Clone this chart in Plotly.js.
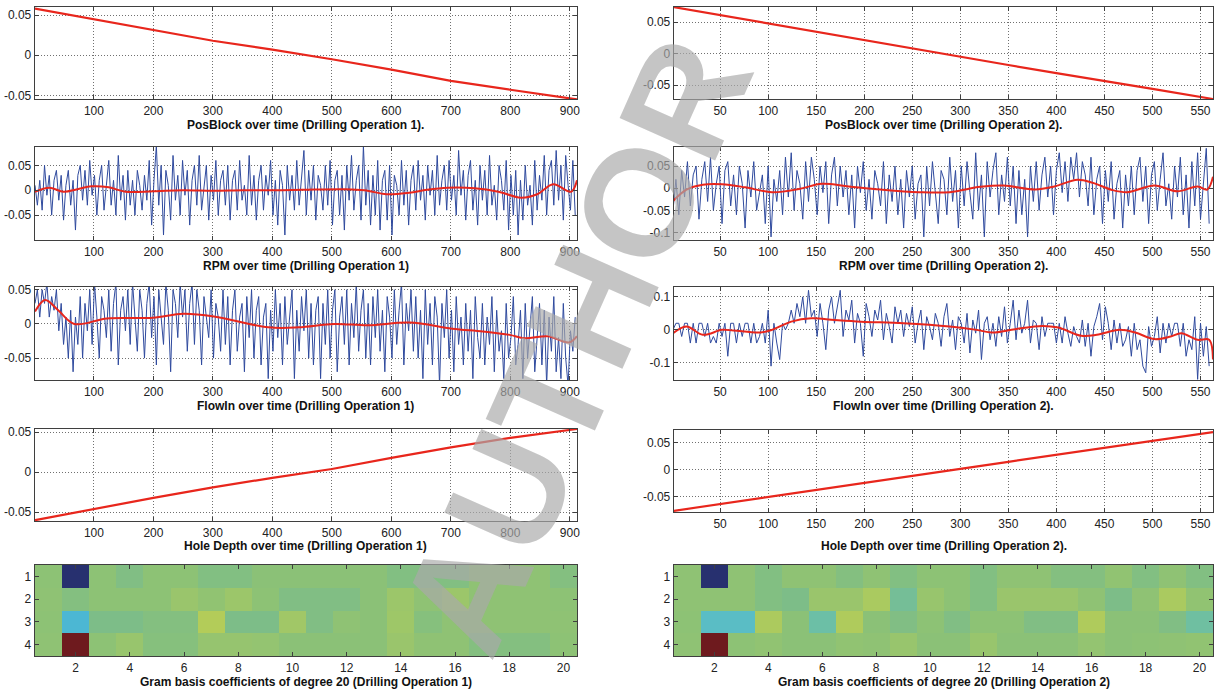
<!DOCTYPE html>
<html><head><meta charset="utf-8">
<script src="https://cdn.plot.ly/plotly-3.0.1.min.js"></script>
<style>html,body{margin:0;padding:0;background:#fff}#chart{width:1215px;height:693px}</style>
</head><body><div id="chart"></div>
<script>
// ---------------- DATA ----------------
// Operation 1 (samples 1..912), Operation 2 (samples 1..563)
const posBlock1X = [1,100,200,300,400,500,600,700,800,912];
const posBlock1Y = [0.058,0.045,0.031,0.018,0.007,-0.005,-0.018,-0.032,-0.043,-0.055];
const holeDepth1Y = [-0.060,-0.046,-0.032,-0.019,-0.007,0.004,0.018,0.031,0.043,0.054];

const posBlock2X = [1,50,100,150,200,250,300,350,400,450,500,563];
const posBlock2Y = [0.074,0.061,0.048,0.034,0.021,0.008,-0.005,-0.018,-0.031,-0.043,-0.056,-0.072];
const holeDepth2Y = [-0.076,-0.063,-0.050,-0.037,-0.024,-0.011,0.002,0.015,0.028,0.041,0.054,0.070];

// raw RPM, op 1 (one value every 4 samples, starting at sample 1)
const rpm1Raw = [
.01,-.03,.02,-.04,.05,-.01,.03,-.05,.02,.04,-.02,.03,-.06,.01,.04,-.03,.02,-.08,.03,.05,
-.02,.04,-.03,.06,-.01,.03,-.05,.02,.05,-.04,.01,.06,-.03,.02,-.05,.07,-.02,.03,-.06,.04,
-.03,.02,-.05,.04,.01,-.04,.03,-.02,.06,-.07,.02,.09,-.03,.05,-.09,.04,.01,-.06,.07,-.02,
.03,-.05,.06,-.01,.04,-.07,.02,.05,-.03,.07,-.04,.01,.05,-.06,.03,-.02,.06,-.05,.02,.04,
-.03,.05,-.06,.02,.04,-.04,.06,-.02,.01,-.05,.07,-.03,.03,-.06,.02,.05,-.04,.03,-.01,.06,
-.05,.02,-.07,.04,.01,-.09,.05,-.02,.03,-.04,.06,-.03,.02,.08,-.05,.04,-.02,.05,-.06,.03,
.01,-.04,.05,-.03,.06,-.07,.02,.04,-.05,.03,-.08,.05,-.02,.07,-.04,.02,.05,-.06,.09,-.03,
.04,-.07,.03,-.05,.06,-.08,.02,.04,-.06,.05,-.09,.03,.01,-.05,.06,-.03,.04,-.07,.02,.05,
-.04,.06,-.02,.03,-.06,.05,-.01,.04,-.05,.07,-.03,.02,.05,-.04,.06,-.02,.03,-.05,.08,-.01,
.04,-.06,.03,.06,-.04,.02,-.07,.05,-.02,.04,-.05,.07,-.03,.01,-.06,.05,.02,-.04,.06,-.08,
.03,-.05,.04,-.09,.02,-.06,.05,-.03,.01,-.07,.06,-.04,.03,-.02,.07,-.05,.04,.06,-.03,.08,
-.02,.05,-.06,.07,.01,-.04,.06,-.05];
const rpm1SmoothX = [1,25,49,72,96,125,153,200,250,300,350,400,450,521,555,592,630,660,695,740,780,818,845,872,902,912];
const rpm1SmoothY = [-0.003,0.005,-0.003,0.002,0.008,0.006,-0.003,-0.002,0.000,-0.001,0.000,0.000,0.001,0.002,0.000,-0.008,-0.005,0.001,0.005,0.004,-0.003,-0.015,-0.008,0.012,-0.003,0.020];

// raw FlowIn, op 1 (one value every 4 samples)
const flow1Raw = [
.03,.05,.01,.05,.03,.06,.01,.04,.02,.05,-.01,.03,-.03,.01,-.05,.02,-.07,.01,-.03,.04,
-.05,.03,-.01,.05,-.03,.06,.01,-.05,.04,.02,-.02,.05,-.04,.03,.06,-.06,.02,.04,-.01,.05,
-.03,.06,.01,-.04,.05,.02,-.05,.03,.06,-.02,.04,-.06,.05,.01,-.03,.06,.02,-.07,.05,.03,
-.02,.06,.01,.05,-.04,.03,.06,-.03,.05,.02,-.06,.04,.01,-.02,.05,-.05,.03,.01,-.04,.05,
-.03,.04,-.06,.02,.05,-.04,.01,.03,-.07,.04,-.02,.05,-.05,.02,.04,-.06,.01,.03,-.08,.02,
-.04,.05,-.02,.03,-.06,.04,-.03,.01,.05,-.08,.02,-.04,.04,-.01,.05,-.05,.03,-.06,.02,.04,
-.08,.03,-.03,.05,-.05,.02,.05,-.07,.01,.04,-.03,.05,-.06,.03,-.02,.06,-.04,.02,.05,-.05,
.03,-.06,.04,-.02,.05,-.04,.02,-.07,.04,.01,-.05,.05,-.03,.02,.06,-.06,.03,-.01,.05,-.04,
.04,-.05,.02,-.08,.05,-.03,.03,-.06,.04,.01,-.09,.03,-.02,.05,-.05,.02,-.07,.04,-.03,.01,
-.06,.03,-.04,.02,-.08,.04,-.02,-.05,.03,-.06,.01,-.03,.04,-.07,.02,-.04,-.01,-.08,.03,-.05,
-.02,.04,-.06,-.03,.02,-.08,.03,-.05,-.01,.04,-.07,-.02,.03,-.06,.02,-.09,.01,-.04,.04,-.07,
-.02,-.08,.03,-.05,-.09,-.01,-.04,.01];
const flow1SmoothX = [1,18,40,67,122,199,250,302,393,444,504,561,631,702,754,799,824,863,899,912];
const flow1SmoothY = [0.018,0.035,0.020,0.000,0.008,0.009,0.015,0.011,-0.005,-0.005,0.000,-0.002,0.002,-0.007,-0.011,-0.016,-0.021,-0.018,-0.027,-0.018];

// raw RPM, op 2 (one value every 3 samples)
const rpm2Raw = [
-.05,.02,-.06,.04,-.02,.06,-.04,.03,.05,-.07,.02,.06,-.03,.07,-.05,.01,.05,-.08,.04,.06,
-.04,.03,-.06,.05,.01,-.09,.04,-.02,.06,-.05,-.01,.03,-.08,.05,-.11,.02,-.03,.04,-.06,.07,
-.02,.08,-.05,.04,.01,-.07,.06,-.03,.07,.02,-.06,.05,-.01,.06,-.08,.03,.07,-.04,.05,-.02,
.04,-.06,.03,-.09,.05,-.01,.06,-.05,.02,-.07,.04,.01,-.04,.06,-.08,.03,-.03,.05,-.06,.02,
-.09,.04,-.02,.05,-.07,.01,.03,-.11,.05,-.04,.06,-.02,-.08,.04,.02,-.06,.07,-.03,.04,-.09,
.05,-.04,.06,-.01,-.07,.08,-.05,.03,-.11,.06,-.02,.04,.08,-.06,.03,-.03,.07,-.04,.05,-.08,
.04,-.06,.02,-.11,.05,-.03,.06,-.05,.03,.07,-.02,.05,-.06,.04,.08,-.01,.06,-.03,.07,.02,
.08,-.02,.06,.03,-.04,.07,-.06,.02,.05,-.08,.04,-.03,.06,-.07,.01,.04,-.09,.03,-.04,.05,
-.06,.04,.07,-.03,.05,-.08,.03,.06,-.05,.02,.08,-.04,.01,-.07,.05,-.02,.07,-.06,.03,-.09,
.06,-.04,.08,-.07,.02,.09,-.08];
const rpm2SmoothX = [1,15,32,52,76,104,132,156,184,217,257,289,321,345,378,398,422,438,458,474,502,526,547,557,563];
const rpm2SmoothY = [-0.029,-0.003,0.008,0.009,0.002,-0.009,-0.002,0.010,0.004,-0.003,-0.009,-0.009,0.003,0.006,-0.003,0.004,0.019,0.012,-0.004,-0.009,0.006,-0.007,0.004,-0.003,0.026];

// raw FlowIn, op 2 (one value every 3 samples)
const flow2Raw = [
0,.02,.02,-.02,.02,.02,-.04,.02,-.04,.02,.02,-.02,.02,-.04,-.02,-.04,.02,-.02,.02,-.08,
.02,.02,-.04,.02,-.02,.02,.02,-.04,.02,-.04,-.02,.02,-.04,.06,-.11,.02,-.04,-.09,.02,0,
.02,.06,.02,.08,.04,.10,.02,.12,.04,.06,-.02,.08,.02,-.06,.06,.10,.02,.07,.12,-.02,
.06,.03,.09,-.04,.05,.02,-.08,.08,.04,-.02,.06,.03,.09,-.03,.05,.01,-.04,.07,.02,.06,
-.02,.05,.01,.07,-.04,.02,.06,-.06,.04,.01,-.03,.05,.02,-.05,.04,.08,-.02,.03,-.06,.04,
.02,-.04,.05,-.07,.03,-.01,.06,-.09,.02,.04,-.03,.02,-.05,.04,-.02,.07,-.04,.02,.09,-.03,
.06,-.01,.02,.09,-.04,.03,.02,-.06,.04,-.02,.02,.02,.02,-.04,.02,-.04,.04,-.01,-.05,.01,
-.02,-.04,.03,-.05,.02,-.08,.01,.04,.08,-.03,.07,.02,-.06,.03,-.04,.02,-.05,-.03,.01,-.08,
.02,-.06,-.03,-.11,-.13,.01,-.05,-.02,.04,-.07,.02,-.04,.02,-.02,.02,.02,-.05,.02,-.08,-.03,
-.06,.04,-.15,.02,-.08,.01,-.11];
const flow2SmoothX = [1,15,32,52,64,92,104,124,145,169,197,241,289,317,333,357,385,402,426,442,466,482,502,519,530,547,559,563];
const flow2SmoothY = [-0.010,0.010,-0.015,0.000,-0.002,-0.008,0.000,0.025,0.035,0.030,0.025,0.020,0.010,0.000,-0.008,0.002,0.012,0.007,-0.018,-0.015,0.000,-0.008,-0.028,-0.020,-0.010,-0.030,-0.030,-0.090];

// Gram basis coefficients (4 signals x 20 coefficients)
const coefCols = [1,2,3,4,5,6,7,8,9,10,11,12,13,14,15,16,17,18,19,20];
const coefRows = [1,2,3,4];
const gram1 = [
 [0.01,-1,0.01,-0.06,0.01,0.01,-0.05,-0.05,0.00,0.00,0.00,0.00,0.00,-0.05,-0.05,-0.05,0.02,0.02,0.02,-0.04],
 [0.02,-0.04,0.01,0.01,0.01,0.07,0.03,0.08,0.01,-0.06,-0.06,-0.06,0.00,0.08,0.02,0.08,0.02,0.02,0.02,0.01],
 [0.01,-0.42,-0.08,-0.08,-0.04,-0.04,0.18,-0.08,-0.08,0.10,-0.06,0.02,0.00,0.09,-0.03,0.02,0.02,0.02,0.02,0.02],
 [0.02,1,0.01,0.06,-0.03,-0.03,0.05,0.05,0.04,0.00,0.00,0.00,0.00,0.07,0.02,0.02,-0.04,-0.04,-0.04,0.01]];
const gram2 = [
 [0.02,-1,0.02,-0.05,0.02,0.02,-0.04,0.02,-0.05,0.01,0.01,-0.05,0.02,0.02,-0.04,-0.04,0.03,-0.05,0.02,-0.05],
 [0.02,0.02,0.02,-0.05,-0.08,0.07,0.07,0.14,-0.14,0.06,0.01,-0.05,0.07,0.07,0.07,0.02,-0.08,0.02,0.14,0.03],
 [0.01,-0.32,-0.32,0.15,0.00,-0.20,0.16,0.00,-0.06,0.01,-0.06,0.01,0.01,-0.06,-0.06,0.16,0.00,0.00,-0.06,-0.18],
 [0.02,1,0.01,0.03,0.00,0.00,0.03,0.02,0.06,0.00,0.00,0.06,0.00,0.00,0.00,0.04,0.00,0.01,0.02,0.03]];

// tick labels
const xTicks1 = [100,200,300,400,500,600,700,800,900];
const xTicks2 = [50,100,150,200,250,300,350,400,450,500,550];
const yTicksA = [-0.05,0,0.05];            const yTextA = ['-0.05','0','0.05'];
const yTicksB = [-0.1,-0.05,0,0.05];       const yTextB = ['-0.1','-0.05','0','0.05'];
const yTicksC = [-0.1,0,0.1];              const yTextC = ['-0.1','0','0.1'];
const hxTicks = [2,4,6,8,10,12,14,16,18,20];
const hyTicks = [1,2,3,4];

const titles = [
 'PosBlock over time (Drilling Operation 1).','PosBlock over time (Drilling Operation 2).',
 'RPM over time (Drilling Operation 1)','RPM over time (Drilling Operation 2).',
 'FlowIn over time (Drilling Operation 1)','FlowIn over time (Drilling Operation 2).',
 'Hole Depth over time (Drilling Operation 1)','Hole Depth over time (Drilling Operation 2).',
 'Gram basis coefficients of degree 20 (Drilling Operation 1)','Gram basis coefficients of degree 20 (Drilling Operation 2)'];
const watermark = 'AUTHOR';

// ---------------- LAYOUT / STYLE ----------------
const W = 1215, H = 693;
const FONT = '"Liberation Sans Narrow", "Arial Narrow", "Liberation Sans", Arial, sans-serif';
const RED = '#e8261c', BLUE = '#2f4a9e';
const colX = [[35,577],[674,1213]];
// [top,bottom] in px for each panel index 0..9 (row-major: left,right)
const panelY = [[7,99],[7,99],[147,240],[147,240],[287,380],[287,380],[429,521],[430,512],[565,656],[565,656]];
const yRanges = [[-0.0545,0.06],[-0.072,0.074],[-0.1,0.087],[-0.117,0.093],[-0.082,0.054],[-0.152,0.13],[-0.061,0.054],[-0.078,0.074],[4.5,0.5],[4.5,0.5]];
const xRanges = [[1,912],[2,563]];
const titleY = [125,125,266,266,406,406,546,546,682,682];

const layout = {width:W,height:H,margin:{l:0,r:0,t:0,b:0},paper_bgcolor:'#fff',plot_bgcolor:'#fff',showlegend:false,annotations:[]};
const axBase = {showline:true,linecolor:'#3f3f3f',linewidth:1.3,mirror:'allticks',ticks:'inside',ticklen:4,tickcolor:'#3f3f3f',
  tickfont:{family:FONT,size:12,color:'#222'},zeroline:false,fixedrange:true};
const yTV = [[yTicksA,yTextA],[yTicksA,yTextA],[yTicksA,yTextA],[yTicksB,yTextB],[yTicksA,yTextA],[yTicksC,yTextC],[yTicksA,yTextA],[yTicksA,yTextA]];

for (let i=0;i<10;i++){
  const c = i%2, k = i===0?'':String(i+1);
  const [t,b] = panelY[i];
  const isHeat = i>=8;
  const grid = {showgrid:!isHeat,gridcolor:'#707070',griddash:'1px,2px',gridwidth:1};
  const xa = Object.assign({},axBase,grid,{domain:[colX[c][0]/W,colX[c][1]/W],anchor:'y'+k});
  const ya = Object.assign({},axBase,grid,{domain:[1-b/H,1-t/H],anchor:'x'+k,range:yRanges[i]});
  if (isHeat){
    xa.range=[0.5,20.5]; xa.tickvals=hxTicks; xa.ticktext=hxTicks.map(String);
    ya.tickvals=hyTicks; ya.ticktext=hyTicks.map(String);
  } else {
    xa.range=xRanges[c]; const xt = c===0?xTicks1:xTicks2; xa.tickvals=xt; xa.ticktext=xt.map(String);
    ya.tickvals=yTV[i][0]; ya.ticktext=yTV[i][1];
  }
  layout['xaxis'+k]=xa; layout['yaxis'+k]=ya;
  layout.annotations.push({text:'<b>'+titles[i]+'</b>',xref:'paper',yref:'paper',
     x:(colX[c][0]+colX[c][1])/2/W,y:1-titleY[i]/H,xanchor:'center',yanchor:'middle',showarrow:false,
     font:{family:FONT,size:12,color:'#111'}});
}
// watermark (semi-transparent, on top)
layout.annotations.push({text:'<b>'+watermark+'</b>',xref:'paper',yref:'paper',x:575/W,y:1-345/H,xanchor:'center',yanchor:'middle',
  showarrow:false,textangle:-66,font:{family:'"Liberation Sans", Arial, sans-serif',size:152,color:'rgba(170,170,170,0.68)'}});

const ax = i => i===0?['x','y']:['x'+(i+1),'y'+(i+1)];
const line = (i,x,y,color,width,shape) => {const [xa,ya]=ax(i);return {type:'scatter',mode:'lines',x:x,y:y,xaxis:xa,yaxis:ya,
   line:{color:color,width:width,shape:shape||'linear',smoothing:1},hoverinfo:'skip'};};
const raw = (i,y,dx) => {const [xa,ya]=ax(i);return {type:'scatter',mode:'lines',y:y,x0:1,dx:dx,xaxis:xa,yaxis:ya,
   line:{color:BLUE,width:1},hoverinfo:'skip'};};

const gramScale = [[0,'#27306f'],[0.08,'#2c3f93'],[0.2,'#3d7fc4'],[0.29,'#4cb7d3'],[0.36,'#5fbfbf'],[0.4,'#6cbfa6'],
  [0.46,'#7dbd88'],[0.5,'#8bc177'],[0.54,'#9cc66a'],[0.6,'#b8cd55'],[0.7,'#d4b040'],[0.85,'#c2402f'],[1,'#6e1a1e']];
const heat = (i,z) => {const [xa,ya]=ax(i);return {type:'heatmap',x:coefCols,y:coefRows,z:z,xaxis:xa,yaxis:ya,
   colorscale:gramScale,zmin:-1,zmax:1,showscale:false,hoverinfo:'skip'};};

const data = [
  line(0,posBlock1X,posBlock1Y,RED,2.2),
  line(1,posBlock2X,posBlock2Y,RED,2.2),
  raw(2,rpm1Raw,4), line(2,rpm1SmoothX,rpm1SmoothY,RED,2,'spline'),
  raw(3,rpm2Raw,3), line(3,rpm2SmoothX,rpm2SmoothY,RED,2,'spline'),
  raw(4,flow1Raw,4), line(4,flow1SmoothX,flow1SmoothY,RED,2,'spline'),
  raw(5,flow2Raw,3), line(5,flow2SmoothX,flow2SmoothY,RED,2,'spline'),
  line(6,posBlock1X,holeDepth1Y,RED,2.2),
  line(7,posBlock2X,holeDepth2Y,RED,2.2),
  heat(8,gram1), heat(9,gram2)
];
Plotly.newPlot('chart',data,layout,{displayModeBar:false,staticPlot:true});
</script></body></html>
